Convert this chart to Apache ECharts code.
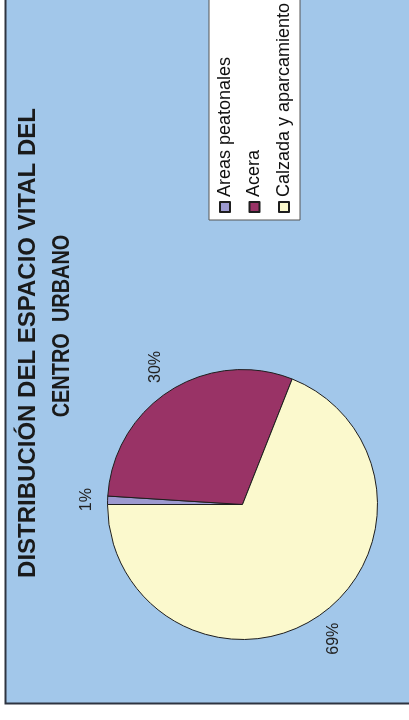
<!DOCTYPE html>
<html>
<head>
<meta charset="utf-8">
<script src="https://cdn.jsdelivr.net/npm/echarts@6/dist/echarts.min.js"></script>
<style>
  html, body { margin: 0; padding: 0; background: #ffffff; width: 409px; height: 720px; overflow: hidden; }
  /* The chart is laid out landscape and turned a quarter turn counter-clockwise */
  #chart {
    position: absolute; left: 0; top: 0;
    width: 720px; height: 409px;
    transform-origin: 0 0;
    transform: translateY(720px) rotate(-90deg);
  }
</style>
</head>
<body>
<div id="chart"></div>
<script>
// Chart content
const titleLine1 = 'DISTRIBUCIÓN DEL ESPACIO VITAL DEL';
const titleLine2 = 'CENTRO  URBANO';
const categories = ['Areas peatonales', 'Acera', 'Calzada y aparcamiento'];
const shares = [1, 30, 69];            // percent of the urban centre's space
const sliceColors = ['#9c99d0', '#993366', '#fbf9cd'];

const chart = echarts.init(document.getElementById('chart'), null, { renderer: 'canvas' });

const FONT = '"Liberation Sans", Arial, Helvetica, sans-serif';

// Place each percentage just outside the rim, along the slice's mid direction
function placeOutside(p) {
  const pts = p.labelLinePoints;
  if (!pts) return {};
  const dx = pts[1][0] - pts[0][0];
  const dy = pts[1][1] - pts[0][1];
  const len = Math.hypot(dx, dy) || 1;
  const ux = dx / len, uy = dy / len;
  const hw = p.labelRect.width / 2, hh = p.labelRect.height / 2;
  const ex = Math.abs(ux) > 1e-6 ? hw / Math.abs(ux) : Infinity;
  const ey = Math.abs(uy) > 1e-6 ? hh / Math.abs(uy) : Infinity;
  const d = 13 + Math.min(ex, ey);
  return {
    x: pts[0][0] + ux * d,
    y: pts[0][1] + uy * d,
    align: 'center',
    verticalAlign: 'middle'
  };
}

chart.setOption({
  animation: false,
  backgroundColor: 'transparent',
  graphic: [
    {
      type: 'rect', z: -10, silent: true,
      shape: { x: 16.5, y: 5.5, width: 740, height: 430 },
      style: { fill: '#a2c7ea', stroke: '#2e3440', lineWidth: 2 }
    },
    {
      type: 'text', silent: true, x: 377, y: 28,
      style: {
        text: titleLine1, fill: '#1a1a1a',
        font: 'bold 24px ' + FONT,
        align: 'center', verticalAlign: 'middle'
      }
    },
    {
      type: 'text', silent: true, x: 394, y: 62, scaleX: 0.83,
      style: {
        text: titleLine2, fill: '#1a1a1a',
        font: 'bold 24px ' + FONT,
        align: 'center', verticalAlign: 'middle'
      }
    }
  ],
  legend: {
    data: categories,
    orient: 'vertical',
    left: 500,
    top: 209,
    padding: [7, 30, 7, 7],
    itemGap: 11.5,
    itemWidth: 10,
    itemHeight: 10,
    icon: 'rect',
    backgroundColor: '#ffffff',
    borderColor: '#555555',
    borderWidth: 1,
    borderRadius: 0,
    textStyle: { fontFamily: FONT, fontSize: 18, lineHeight: 18, color: '#111111' }
  },
  series: [{
    type: 'pie',
    center: [215.5, 242.5],
    radius: 135,
    startAngle: 90,
    clockwise: true,
    avoidLabelOverlap: false,
    minAngle: 0,
    itemStyle: { borderColor: '#1e1e1e', borderWidth: 1 },
    label: {
      show: true,
      position: 'outside',
      rotate: 0,
      formatter: '{c}%',
      fontFamily: FONT,
      fontSize: 16,
      color: '#222222'
    },
    labelLine: { show: true, length: 10, length2: 0, lineStyle: { opacity: 0 } },
    labelLayout: placeOutside,
    emphasis: { disabled: true },
    data: categories.map((name, i) => ({
      name: name,
      value: shares[i],
      itemStyle: { color: sliceColors[i] }
    }))
  }]
});
</script>
</body>
</html>
